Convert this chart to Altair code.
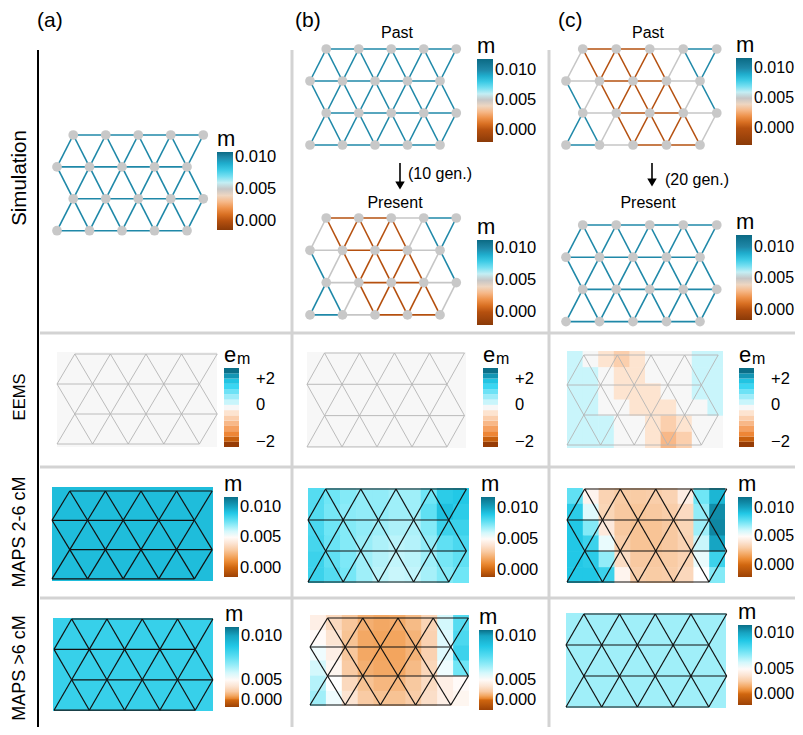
import altair as alt
import pandas as pd

FONT = "Liberation Sans"

# ---------------------------------------------------------------- data
LATTICE_ROWS = 4
LATTICE_COLS = 5

# Simulated migration rate per lattice edge.
# Edge order: row-0 horizontals, row-0/1 diagonals (left to right), row-1 horizontals,
# row-1/2 diagonals, row-2 horizontals, row-2/3 diagonals, row-3 horizontals.
SIM_HIGH = [
    0.010, 0.010, 0.010, 0.010,
    0.010, 0.010, 0.010, 0.010, 0.010, 0.010, 0.010, 0.010, 0.010,
    0.010, 0.010, 0.010, 0.010,
    0.010, 0.010, 0.010, 0.010, 0.010, 0.010, 0.010, 0.010, 0.010,
    0.010, 0.010, 0.010, 0.010,
    0.010, 0.010, 0.010, 0.010, 0.010, 0.010, 0.010, 0.010, 0.010,
    0.010, 0.010, 0.010, 0.010,
]
SIM_BARRIER = [
    0.000, 0.000, 0.005, 0.010,
    0.005, 0.000, 0.000, 0.000, 0.000, 0.000, 0.005, 0.010, 0.010,
    0.005, 0.000, 0.000, 0.005,
    0.010, 0.005, 0.000, 0.000, 0.000, 0.000, 0.000, 0.005, 0.010,
    0.005, 0.000, 0.000, 0.005,
    0.010, 0.010, 0.005, 0.000, 0.000, 0.000, 0.000, 0.000, 0.005,
    0.010, 0.005, 0.000, 0.000,
]

# Estimated surfaces (rows top to bottom, columns left to right)
EEMS_A = [[0.0]]
EEMS_B = [[0.0]]
EEMS_C = [
    [0.33, 0.0, -0.33, -0.67, -0.33, 0.0, 0.0, 0.0, 0.33, 0.33],
    [0.33, 0.33, 0.0, -0.33, -0.33, 0.0, 0.0, 0.0, 0.33, 0.33],
    [0.33, 0.33, 0.0, -0.33, -0.33, -0.33, 0.0, 0.0, 0.33, 0.33],
    [0.33, 0.33, 0.0, 0.0, -0.33, -0.33, -0.33, 0.0, 0.0, 0.33],
    [0.33, 0.33, 0.33, 0.0, 0.0, -0.33, -0.67, -0.33, 0.0, 0.0],
    [0.33, 0.33, 0.33, 0.0, 0.0, -0.33, -1.0, -0.67, 0.0, 0.0],
]
MAPS26_A = [[0.0093]]
MAPS26_B = [
    [0.0080, 0.0075, 0.0072, 0.0070, 0.0070, 0.0068, 0.0068, 0.0075, 0.0088, 0.0090],
    [0.0080, 0.0074, 0.0071, 0.0070, 0.0070, 0.0068, 0.0068, 0.0078, 0.0092, 0.0088],
    [0.0082, 0.0075, 0.0072, 0.0070, 0.0068, 0.0066, 0.0066, 0.0072, 0.0085, 0.0085],
    [0.0083, 0.0076, 0.0072, 0.0069, 0.0066, 0.0064, 0.0065, 0.0070, 0.0078, 0.0082],
    [0.0085, 0.0078, 0.0073, 0.0068, 0.0065, 0.0063, 0.0064, 0.0068, 0.0074, 0.0078],
    [0.0085, 0.0080, 0.0074, 0.0068, 0.0064, 0.0062, 0.0063, 0.0067, 0.0072, 0.0075],
]
MAPS26_C = [
    [0.0078, 0.0047, 0.0033, 0.0030, 0.0030, 0.0031, 0.0033, 0.0044, 0.0075, 0.0095],
    [0.0088, 0.0058, 0.0034, 0.0029, 0.0028, 0.0029, 0.0031, 0.0036, 0.0070, 0.0108],
    [0.0090, 0.0072, 0.0042, 0.0029, 0.0027, 0.0027, 0.0029, 0.0034, 0.0068, 0.0110],
    [0.0090, 0.0085, 0.0056, 0.0031, 0.0027, 0.0027, 0.0029, 0.0033, 0.0062, 0.0100],
    [0.0090, 0.0088, 0.0070, 0.0037, 0.0029, 0.0029, 0.0030, 0.0033, 0.0056, 0.0085],
    [0.0090, 0.0090, 0.0085, 0.0047, 0.0031, 0.0030, 0.0031, 0.0035, 0.0052, 0.0072],
]
MAPS6_A = [[0.0086]]
MAPS6_B = [
    [0.0045, 0.0036, 0.0028, 0.0022, 0.0020, 0.0021, 0.0025, 0.0034, 0.0060, 0.0080],
    [0.0050, 0.0040, 0.0027, 0.0020, 0.0019, 0.0019, 0.0023, 0.0033, 0.0058, 0.0082],
    [0.0055, 0.0045, 0.0028, 0.0020, 0.0019, 0.0019, 0.0023, 0.0033, 0.0058, 0.0085],
    [0.0060, 0.0048, 0.0030, 0.0022, 0.0020, 0.0020, 0.0025, 0.0035, 0.0055, 0.0075],
    [0.0065, 0.0052, 0.0036, 0.0027, 0.0024, 0.0024, 0.0029, 0.0037, 0.0045, 0.0050],
    [0.0068, 0.0055, 0.0040, 0.0030, 0.0027, 0.0027, 0.0031, 0.0038, 0.0045, 0.0048],
]
MAPS6_C = [[0.0068]]

COLUMN_LABELS = ["(a)", "(b)", "(c)"]
ROW_LABELS = ["Simulation", "EEMS", "MAPS 2-6 cM", "MAPS >6 cM"]
M_TICKS = [0.0, 0.005, 0.010]
EEMS_TICK_TEXT = ["+2", "0", "\u22122"]
EEMS_TICK_AT = [1.8333, 0.1667, -2.1667]

# ---------------------------------------------------------------- colours
SIM_STOPS = [0.000, 0.0015, 0.003, 0.0042, 0.005, 0.006, 0.0075, 0.0088, 0.010]
SIM_COLORS = ["#b5500f", "#ea7f2c", "#f6b888", "#ecdccc", "#c6c6c6",
              "#c4eef4", "#4dd8f0", "#1fb4d4", "#1f88a8"]
SIM_LOW, SIM_TOP = "#8a3a08", "#0b6a84"

MAPS_STOPS = [0.000, 0.0012, 0.0028, 0.0042, 0.0052, 0.0062, 0.0075, 0.0090, 0.0103]
MAPS_COLORS = ["#d0660f", "#f0913a", "#f8c79c", "#fde9dc", "#ffffff",
               "#c9f6fb", "#6fe6f6", "#22c8e6", "#139ab8"]
MAPS_LOW, MAPS_TOP = "#9c4206", "#0a6f88"

EEMS_THRESH = [-2.1667, -1.8333, -1.5, -1.1667, -0.8333, -0.5, -0.1667,
               0.1667, 0.5, 0.8333, 1.1667, 1.5, 1.8333, 2.1667]
EEMS_COLORS = ["#963c06", "#c8600e", "#ee8636", "#f5a060", "#f8b888", "#fbcfad", "#fde4d0",
               "#f7f7f7", "#c9f5fb", "#9eecf9", "#6de2f6", "#3bd6f2", "#22c4e2", "#1496b4", "#0b6f88"]

# ---------------------------------------------------------------- canvas
W, H = 787, 719
XS = alt.Scale(domain=[8, 8 + W], nice=False, zero=False)
YS = alt.Scale(domain=[8, 8 + H], nice=False, zero=False, reverse=True)


def xenc(f="x"):
    return alt.X(f"{f}:Q", scale=XS, axis=None)


def yenc(f="y"):
    return alt.Y(f"{f}:Q", scale=YS, axis=None)


def node_pos(r, c):
    return c + (0.5 if r % 2 == 0 else 0.0), float(r)


def build_edges():
    edges = []
    for r in range(LATTICE_ROWS):
        for c in range(LATTICE_COLS - 1):
            edges.append(((r, c), (r, c + 1)))
        if r < LATTICE_ROWS - 1:
            both = [(r, c) for c in range(LATTICE_COLS)] + [(r + 1, c) for c in range(LATTICE_COLS)]
            both.sort(key=lambda n: node_pos(*n)[0])
            edges.extend(zip(both[:-1], both[1:]))
    return edges


EDGES = build_edges()


def edge_frame(geo, values=None):
    rows = []
    for k, (a, b) in enumerate(EDGES):
        ax, ay = node_pos(*a)
        bx, by = node_pos(*b)
        rows.append({"x": geo["x0"] + ax * geo["dx"], "y": geo["y0"] + ay * geo["dy"],
                     "x2": geo["x0"] + bx * geo["dx"], "y2": geo["y0"] + by * geo["dy"],
                     "v": values[k] if values is not None else 0.0})
    return pd.DataFrame(rows)


def node_frame(geo):
    return pd.DataFrame([{"x": geo["x0"] + node_pos(r, c)[0] * geo["dx"], "y": geo["y0"] + r * geo["dy"]}
                         for r in range(LATTICE_ROWS) for c in range(LATTICE_COLS)])


def grid_frame(grid, box):
    x0, x1, y0, y1 = box
    nr, nc = len(grid), len(grid[0])
    w, h = (x1 - x0) / nc, (y1 - y0) / nr
    rows = []
    for i, row in enumerate(grid):
        for j, v in enumerate(row):
            rows.append({"x": x0 + j * w, "x2": x0 + (j + 1) * w + (0.6 if j < nc - 1 else 0),
                         "y": y0 + i * h, "y2": y0 + (i + 1) * h + (0.6 if i < nr - 1 else 0), "v": v})
    return pd.DataFrame(rows)


def legend(gx, gtop, glen, thick, title="m", lfs=16.5, **extra):
    spec = dict(orient="none", legendX=gx - 8, legendY=gtop - 8 - 23, direction="vertical",
                title=title, titleFont=FONT, titleFontSize=22, titleFontWeight="normal",
                titleColor="black", titlePadding=1,
                gradientLength=glen, gradientThickness=thick, gradientStrokeWidth=0,
                labelFont=FONT, labelFontSize=lfs, labelColor="black", labelOverlap=False, padding=0)
    spec.update(extra)
    return alt.Legend(**spec)


def sim_scale(dom):
    return alt.Scale(domain=[dom[0]] + SIM_STOPS + [dom[1]], range=[SIM_LOW] + SIM_COLORS + [SIM_TOP],
                     interpolate="rgb", nice=False, zero=False)


def maps_scale(dom, exponent=None):
    kw = dict(domain=[dom[0]] + MAPS_STOPS + [dom[1]], range=[MAPS_LOW] + MAPS_COLORS + [MAPS_TOP],
              interpolate="rgb", nice=False, zero=False)
    if exponent:
        kw.update(type="pow", exponent=exponent)
    return alt.Scale(**kw)


layers = []

# ---------------------------------------------------------------- separators
gray_lines = pd.DataFrame([
    {"x": 292, "y": 50, "x2": 292, "y2": 735},
    {"x": 549, "y": 50, "x2": 549, "y2": 735},
    {"x": 40, "y": 333, "x2": 803, "y2": 333},
    {"x": 40, "y": 467, "x2": 803, "y2": 467},
    {"x": 40, "y": 598, "x2": 803, "y2": 598},
])
layers.append(alt.Chart(gray_lines).mark_rule(color="#d3d3d3", strokeWidth=3).encode(
    x=xenc(), y=yenc(), x2="x2:Q", y2="y2:Q"))
black_line = pd.DataFrame([{"x": 38, "y": 50, "x2": 38, "y2": 735}])
layers.append(alt.Chart(black_line).mark_rule(color="black", strokeWidth=2).encode(
    x=xenc(), y=yenc(), x2="x2:Q", y2="y2:Q"))

# ---------------------------------------------------------------- simulation panels
SIM_PANELS = [
    (SIM_HIGH, dict(x0=57, dx=32.5, y0=135, dy=31.9),
     dict(gx=217, gtop=152, glen=78, dom=(-0.0014, 0.0108), lfs=16.5)),
    (SIM_HIGH, dict(x0=310, dx=32.5, y0=49, dy=32.0),
     dict(gx=477, gtop=59, glen=83, dom=(-0.0020, 0.0118), lfs=16.5)),
    (SIM_BARRIER, dict(x0=310, dx=32.5, y0=218, dy=32.3),
     dict(gx=477, gtop=240, glen=85, dom=(-0.0020, 0.0113), lfs=16.5)),
    (SIM_BARRIER, dict(x0=566, dx=33.5, y0=49, dy=32.0),
     dict(gx=736, gtop=58, glen=87, dom=(-0.0028, 0.0117), lfs=16)),
    (SIM_HIGH, dict(x0=566, dx=33.5, y0=225, dy=32.2),
     dict(gx=736, gtop=235, glen=85, dom=(-0.0016, 0.0119), lfs=16)),
]
for values, geo, lg in SIM_PANELS:
    layers.append(alt.Chart(edge_frame(geo, values)).mark_rule(strokeWidth=1.6).encode(
        x=xenc(), y=yenc(), x2="x2:Q", y2="y2:Q",
        color=alt.Color("v:Q", scale=sim_scale(lg["dom"]),
                        legend=legend(lg["gx"], lg["gtop"], lg["glen"], 16, lfs=lg["lfs"], values=M_TICKS,
                                      format=".3f", labelOffset=2))))
    layers.append(alt.Chart(node_frame(geo)).mark_circle(size=95, color="#c8c8c8", opacity=1).encode(
        x=xenc(), y=yenc()))

# ---------------------------------------------------------------- EEMS panels
eems_label_expr = " : ".join(
    f"abs(datum.value - ({v})) < 0.01 ? '{t}'" for v, t in zip(EEMS_TICK_AT, EEMS_TICK_TEXT)) + " : ''"
EEMS_PANELS = [
    (EEMS_A, dict(x0=57, dx=35.6, y0=354, dy=30.0), (57, 217, 352, 447), 224),
    (EEMS_B, dict(x0=307, dx=35.0, y0=353, dy=31.3), (307, 466, 352, 448), 483),
    (EEMS_C, dict(x0=567, dx=33.6, y0=355, dy=30.0), (567, 723, 351, 448), 739),
]
for grid, geo, box, gx in EEMS_PANELS:
    layers.append(alt.Chart(grid_frame(grid, box)).mark_rect(strokeWidth=0).encode(
        x=xenc(), y=yenc(), x2="x2:Q", y2="y2:Q",
        color=alt.Color("v:Q", scale=alt.Scale(type="threshold", domain=EEMS_THRESH, range=EEMS_COLORS),
                        legend=legend(gx, 368, 79, 15, title="e", type="gradient",
                                      labelExpr=eems_label_expr, labelAlign="center", labelOffset=17))))
    layers.append(alt.Chart(edge_frame(geo)).mark_rule(color="#b4b4b4", strokeWidth=0.9).encode(
        x=xenc(), y=yenc(), x2="x2:Q", y2="y2:Q"))
    layers.append(alt.Chart(pd.DataFrame([{"t": "m", "x": gx + 13, "y": 363.5}])).mark_text(
        font=FONT, fontSize=16, align="left", baseline="alphabetic", color="black").encode(
        x=xenc(), y=yenc(), text="t:N"))

# ---------------------------------------------------------------- MAPS panels
MAPS_PANELS = [
    (MAPS26_A, dict(x0=52, dx=35.6, y0=491, dy=29.3), (52, 213, 487, 581),
     dict(gx=224, gtop=497, dom=(-0.00156, 0.01167), exp=None, lfs=16.5)),
    (MAPS26_B, dict(x0=308, dx=35.2, y0=489, dy=31.0), (308, 469, 488, 583),
     dict(gx=481, gtop=497, dom=(-0.00113, 0.01177), exp=None, lfs=16.5)),
    (MAPS26_C, dict(x0=567, dx=35.5, y0=489, dy=31.0), (567, 725, 488, 583),
     dict(gx=738, gtop=497, dom=(-0.0021, 0.0119), exp=None, lfs=16)),
    (MAPS6_A, dict(x0=54, dx=35.3, y0=619, dy=30.4), (53, 213, 618, 711),
     dict(gx=225, gtop=627, dom=(-0.00268, 0.0108), exp=1.68, lfs=16.5)),
    (MAPS6_B, dict(x0=310, dx=35.2, y0=618, dy=29.0), (310, 469, 615, 706),
     dict(gx=479, gtop=630, dom=(-0.00331, 0.01054), exp=1.68, lfs=16.5)),
    (MAPS6_C, dict(x0=566, dx=35.7, y0=614, dy=31.0), (566, 726, 613, 708),
     dict(gx=738, gtop=625, dom=(-0.00264, 0.0110), exp=1.29, lfs=16)),
]
for grid, geo, box, lg in MAPS_PANELS:
    layers.append(alt.Chart(grid_frame(grid, box)).mark_rect(strokeWidth=0).encode(
        x=xenc(), y=yenc(), x2="x2:Q", y2="y2:Q",
        color=alt.Color("v:Q", scale=maps_scale(lg["dom"], lg["exp"]),
                        legend=legend(lg["gx"], lg["gtop"], 80, 14, lfs=lg["lfs"], values=M_TICKS,
                                      format=".3f", labelOffset=2))))
    layers.append(alt.Chart(edge_frame(geo)).mark_rule(color="#111111", strokeWidth=1.2).encode(
        x=xenc(), y=yenc(), x2="x2:Q", y2="y2:Q"))

# ---------------------------------------------------------------- arrows and captions
arrow_shafts = pd.DataFrame([{"x": 400, "y": 163, "x2": 400, "y2": 183},
                             {"x": 652, "y": 163, "x2": 652, "y2": 180}])
layers.append(alt.Chart(arrow_shafts).mark_rule(color="black", strokeWidth=1.6).encode(
    x=xenc(), y=yenc(), x2="x2:Q", y2="y2:Q"))
arrow_heads = pd.DataFrame([{"x": 400, "y": 185.5}, {"x": 652, "y": 182.5}])
layers.append(alt.Chart(arrow_heads).mark_point(shape="triangle-down", filled=True, size=90,
                                                color="black", opacity=1).encode(x=xenc(), y=yenc()))


def text_layer(items, **mark):
    df = pd.DataFrame(items, columns=["t", "x", "y"])
    return alt.Chart(df).mark_text(font=FONT, color="black", **mark).encode(
        x=xenc(), y=yenc(), text="t:N")


layers.append(text_layer(list(zip(COLUMN_LABELS, [37, 295, 558], [21, 21, 21])),
                         fontSize=21, align="left", baseline="middle"))
layers.append(text_layer([("Past", 397, 33), ("Past", 648, 33), ("Present", 395, 203), ("Present", 648, 203)],
                         fontSize=16, align="center", baseline="middle"))
layers.append(text_layer([("(10 gen.)", 408, 174), ("(20 gen.)", 665, 180)],
                         fontSize=16, align="left", baseline="middle"))
for label, yc, fs in zip(ROW_LABELS, [178, 397, 532, 668], [20.5, 16.5, 18, 18]):
    layers.append(text_layer([(label, 20, yc)], fontSize=fs, angle=270, align="center", baseline="middle"))

chart = alt.layer(*layers).resolve_scale(color="independent").properties(
    width=W, height=H, padding=0, autosize=alt.AutoSizeParams(type="none"),
).configure_view(stroke="transparent")

chart.save("out.html", embed_options={"renderer": "svg", "actions": False})
